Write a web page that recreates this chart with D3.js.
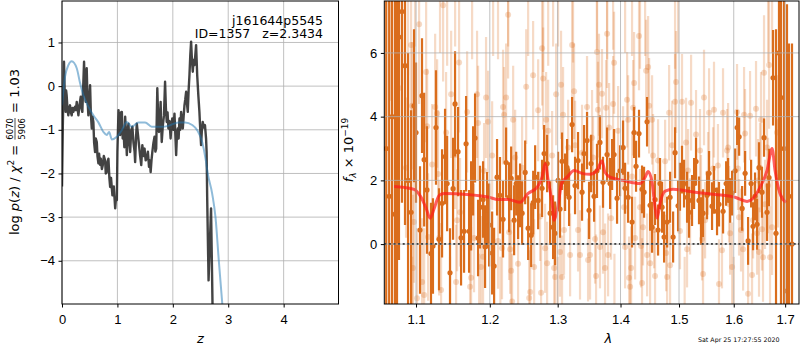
<!DOCTYPE html>
<html>
<head>
<meta charset="utf-8">
<script src="https://d3js.org/d3.v7.min.js"></script>
<style>
body { margin: 0; background: #fff; }
svg { font-family: "DejaVu Sans", sans-serif; }
.tick text { font-size: 13px; fill: #000; }
</style>
</head>
<body>
<svg id="chart" width="800" height="350"></svg>
<script>
// ---- left panel: log p(z) ----
var pzRedshift = [0, 0.015, 0.036, 0.05, 0.066, 0.075, 0.084, 0.1, 0.114, 0.13,
  0.145, 0.16, 0.175, 0.19, 0.205, 0.22, 0.235, 0.25, 0.266, 0.28,
  0.296, 0.315, 0.338, 0.352, 0.367, 0.38, 0.398, 0.41, 0.428, 0.446,
  0.46, 0.476, 0.49, 0.507, 0.52, 0.537, 0.55, 0.566, 0.58, 0.597,
  0.61, 0.628, 0.64, 0.657, 0.67, 0.685, 0.70, 0.72, 0.736, 0.755,
  0.778, 0.79, 0.808, 0.82, 0.838, 0.855, 0.869, 0.885, 0.91, 0.935,
  0.96, 0.975, 0.99, 1.0, 1.02, 1.035, 1.05, 1.065, 1.08, 1.095,
  1.11, 1.125, 1.14, 1.155, 1.17, 1.185, 1.20, 1.215, 1.23, 1.25,
  1.27, 1.29, 1.31, 1.32, 1.335, 1.35, 1.37, 1.39, 1.41, 1.43,
  1.45, 1.47, 1.49, 1.51, 1.53, 1.55, 1.57, 1.585, 1.60, 1.615,
  1.63, 1.65, 1.67, 1.685, 1.70, 1.72, 1.735, 1.75, 1.765, 1.78,
  1.79, 1.80, 1.82, 1.84, 1.86, 1.875, 1.89, 1.905, 1.92, 1.94,
  1.96, 1.975, 1.99, 2.01, 2.03, 2.045, 2.06, 2.075, 2.09, 2.105,
  2.12, 2.135, 2.15, 2.165, 2.18, 2.195, 2.21, 2.225, 2.24, 2.255,
  2.27, 2.285, 2.30, 2.315, 2.33, 2.345, 2.36, 2.375, 2.39, 2.405,
  2.42, 2.43, 2.44, 2.46, 2.48, 2.495, 2.51, 2.525, 2.54, 2.56,
  2.58, 2.60, 2.61, 2.62, 2.645, 2.69, 2.72];
var pzLog = [-2.3, -0.9, 0.56, -0.2, -0.59, -0.1, -0.21, -0.55, -0.67, -0.5,
  -0.44, -0.6, -0.67, -0.5, -0.59, -0.52, -0.47, -0.55, -0.36, -0.5,
  -0.67, -0.45, -0.24, -0.5, -0.59, -0.1, 0.56, 0.0, -0.36, 0.41,
  -0.3, -0.67, -0.3, 0.02, -0.6, -0.97, -0.7, -0.82, -1.3, -1.51,
  -1.2, -1.28, -1.6, -1.77, -1.55, -1.8, -1.66, -1.9, -1.81, -1.6,
  -1.70, -2.0, -1.97, -1.75, -1.66, -2.1, -2.31, -2.1, -2.5, -2.3,
  -2.80, -2.55, -2.61, -1.5, -0.55, -0.9, -1.12, -0.6, -0.59, -1.2,
  -1.0, -1.4, -0.7, -1.1, -1.58, -1.0, -0.86, -1.3, -1.51, -1.0,
  -0.93, -1.3, -1.5, -1.74, -1.2, -0.86, -1.1, -1.35, -1.6, -1.81,
  -1.35, -1.6, -1.43, -1.7, -1.66, -1.5, -1.85, -1.7, -1.97, -1.7,
  -1.51, -1.3, -1.16, -1.5, -1.43, -0.05, -0.7, -1.05, -0.8, -0.36,
  -0.9, -1.28, -0.9, -0.67, 0.1, -0.5, -0.82, -0.6, -0.97, -0.8,
  -1.2, -0.9, -0.74, -1.0, -0.63, -1.1, -1.58, -1.1, -0.97, -1.2,
  -0.74, -1.0, -0.59, -0.8, -0.97, -0.7, -0.44, -0.3, -0.13, -0.4,
  -0.59, -0.1, 0.25, 0.7, 1.02, 0.6, 0.33, 0.6, 0.48, 0.7,
  0.94, 0.6, 0.25, -0.2, -0.59, -1.0, -1.35, -1.0, -0.82, -0.95,
  -0.89, -1.2, -1.51, -2.54, -4.45, -2.8, -5.3];

var priorRedshift = [0, 0.054, 0.115, 0.175, 0.266, 0.326, 0.386, 0.476, 0.566, 0.657,
  0.747, 0.808, 0.85, 0.9, 0.99, 1.08, 1.17, 1.26, 1.38, 1.50,
  1.62, 1.80, 1.92, 2.10, 2.22, 2.35, 2.44, 2.53, 2.59, 2.63,
  2.71, 2.77, 2.83, 2.90];
var priorLog = [-0.44, 0.21, 0.48, 0.57, 0.41, 0.07, -0.21, -0.47, -0.67, -0.83,
  -1.05, -1.12, -1.05, -1.22, -1.16, -1.01, -0.82, -0.93, -0.83, -0.83,
  -0.93, -0.93, -0.91, -0.83, -0.83, -0.89, -1.01, -1.28, -1.66, -2.0,
  -2.46, -3.0, -4.0, -5.1];

var zTicks = [0, 1, 2, 3, 4];
var logTicks = [-4, -3, -2, -1, 0, 1];

// ---- right panel: spectrum (flux in 1e-19) ----
var darkWave = [1.062, 1.0657, 1.0694, 1.0731, 1.0756, 1.0781, 1.0819, 1.0858, 1.0897, 1.0936,
  1.0974, 1.1000, 1.1052, 1.1078, 1.1106, 1.1143, 1.1196, 1.1222, 1.1262, 1.1302,
  1.1343, 1.1383, 1.1450, 1.1491, 1.1518, 1.1559, 1.1600, 1.1641, 1.1669, 1.1710,
  1.1766, 1.1793, 1.1835, 1.1862, 1.1905, 1.1933, 1.1962, 1.2033, 1.2061, 1.2145,
  1.2189, 1.2233, 1.2276, 1.2306, 1.2349, 1.2407, 1.2436, 1.2466, 1.2511, 1.2555,
  1.2600, 1.2659, 1.2704, 1.2763, 1.2794, 1.2839, 1.2885, 1.2930, 1.2960, 1.3006,
  1.3114, 1.3176, 1.3223, 1.3269, 1.3316, 1.3379, 1.3411, 1.3458, 1.3490, 1.3522,
  1.3570, 1.3665, 1.3714, 1.3780, 1.3894, 1.3943, 1.4042, 1.4076, 1.4126, 1.4192,
  1.4226, 1.4259, 1.4309, 1.4360, 1.4394, 1.4445, 1.4497, 1.4531, 1.4582, 1.4634,
  1.4703, 1.4738, 1.4791, 1.4843, 1.4896, 1.4930, 1.5053, 1.5089, 1.5143, 1.5178,
  1.5232, 1.5304, 1.5358, 1.5394, 1.5431, 1.5504, 1.5541, 1.5596, 1.5688, 1.5724,
  1.5800, 1.5857, 1.5894, 1.5932, 1.6064, 1.6102, 1.6159, 1.6216, 1.6273, 1.6331,
  1.6369, 1.6446, 1.6542, 1.6582, 1.6641, 1.6680, 1.6759, 1.6818, 1.6877, 1.6917,
  1.6977, 1.7037, 1.7077, 1.7138,
  1.1411, 1.1738, 1.1990, 1.2103, 1.2379, 1.2630, 1.3036, 1.3067, 1.3145, 1.3617,
  1.3829, 1.3862, 1.3992, 1.4668, 1.4983, 1.5017, 1.5269, 1.5632, 1.5969, 1.6026,
  1.6407, 1.6484];
var darkFlux = [3.0, 1.5, 4.0, 0.94, 2.47, 6.5, 7.3, 5.6, 2.0, 1.0,
  4.34, 3.5, 0.44, 4.66, 2.65, 1.7, -0.3, -0.06, 3.66, 0.15,
  1.28, 2.75, -0.9, 1.74, 4.4, 2.9, 0.2, 0.4, 3.15, 0.4,
  2.3, 3.33, 0.19, 1.16, 1.4, -0.08, 1.06, -0.28, -0.69, 1.53,
  0.78, 2.56, 1.47, 2.06, 0.75, 1.16, 1.53, 0.97, 2.25, 0.5,
  0.28, 2.1, 1.37, 1.75, 2.84, 2.53, 0.97, 0.53, 0.34, 2.0,
  1.94, 1.47, 3.75, 1.84, 2.62, 1.63, 2.84, 3.25, 1.06, 2.53,
  1.5, 3.19, 1.94, 2.81, 2.81, 1.44, 3.03, 1.75, 1.47, 0.69,
  3.5, 2.44, 3.47, 1.72, 1.63, 3.84, 1.22, 0.53, 1.4, 0.44,
  1.16, 0.22, 0.69, 1.47, 0.22, 2.87, 2.34, 1.9, 1.47, 1.0,
  1.37, 2.59, 1.37, 0.72, 0.97, 1.53, 2.22, 1.19, 1.03, 1.25,
  1.03, 1.9, 2.0, 1.37, 3.66, 3.37, 1.12, 2.22, 0.1, 1.9,
  0.56, 0.62, 1.63, 3.34, 1.0, 2.09, 5.22, 0.34, 6.0, 4.6,
  3.0, -1.47, 1.5, 0.0,
  1.9, 1.2, 0.6, 2.1, 1.9, 1.3, 1.1, 2.6, 2.4, 2.3,
  1.9, 2.5, 2.3, 1.9, 1.2, 1.8, 1.9, 1.7, 1.6, 2.3,
  1.5, 2.4];
var darkErr = [9, 8, 8, 7, 6, 7, 6, 5, 4, 3.2,
  2.4, 2.2, 2.0, 1.8, 2.1, 2.0, 1.6, 1.5, 1.8, 1.6,
  1.7, 1.5, 1.4, 1.6, 1.65, 1.4, 1.5, 1.3, 1.5, 1.3,
  1.4, 1.4, 1.2, 1.3, 1.2, 1.3, 1.2, 1.3, 1.2, 1.2,
  1.2, 1.1, 1.1, 1.0, 1.1, 1.0, 1.0, 1.0, 1.0, 1.0,
  1.0, 1.0, 0.9, 0.9, 0.9, 0.9, 1.0, 1.0, 1.0, 0.9,
  0.9, 0.9, 0.87, 0.9, 0.9, 0.9, 0.9, 0.9, 0.9, 0.9,
  0.8, 0.85, 0.8, 0.85, 0.8, 0.8, 0.85, 0.8, 0.8, 0.8,
  0.8, 0.8, 0.75, 0.75, 0.8, 0.78, 0.8, 0.8, 0.8, 0.8,
  0.8, 0.8, 0.8, 0.8, 0.8, 0.8, 0.75, 0.75, 0.8, 0.8,
  0.8, 0.75, 0.75, 0.75, 0.75, 0.75, 0.7, 0.75, 0.75, 0.7,
  0.7, 0.7, 0.7, 0.7, 0.55, 0.6, 0.7, 0.7, 0.75, 0.75,
  0.75, 0.8, 0.8, 0.6, 0.9, 0.9, 1.5, 6.4, 4, 9,
  9, 9, 4.8, 6.3,
  1.5, 1.4, 1.3, 1.2, 1.0, 1.0, 0.9, 0.9, 0.9, 0.85,
  0.8, 0.8, 0.8, 0.8, 0.8, 0.75, 0.8, 0.75, 0.7, 0.7,
  0.75, 0.8];

// second (fainter) spectrum; the last rows are points whose centres fall off the plot
var lightWave = [1.078, 1.0871, 1.0936, 1.0949, 1.0961, 1.0974, 1.1013, 1.1040, 1.1079, 1.1106,
  1.1132, 1.1145, 1.1158, 1.1211, 1.1251, 1.1277, 1.1290, 1.1304, 1.1330, 1.1357,
  1.1397, 1.1465, 1.1519, 1.1532, 1.1546, 1.1573, 1.1586, 1.1683, 1.1724, 1.1738,
  1.1779, 1.1821, 1.1835, 1.1876, 1.1905, 1.1919, 1.1947, 1.1976, 1.2033, 1.2117,
  1.2174, 1.2189, 1.2203, 1.2233, 1.2262, 1.2276, 1.2291, 1.2306, 1.2320, 1.2335,
  1.2364, 1.2407, 1.2466, 1.2526, 1.2570, 1.2585, 1.2629, 1.2644, 1.2704, 1.2733,
  1.2748, 1.2763, 1.2779, 1.2809, 1.2824, 1.2839, 1.2855, 1.2915, 1.2946, 1.2961,
  1.2976, 1.3036, 1.3052, 1.3067, 1.3083, 1.3098, 1.3161, 1.3192, 1.3223, 1.3254,
  1.3270, 1.3316, 1.3347, 1.3379, 1.3458, 1.3474, 1.3506, 1.3538, 1.3554, 1.3586,
  1.3602, 1.3617, 1.3633, 1.3649, 1.3665, 1.3698, 1.3714, 1.3747, 1.3763, 1.3780,
  1.3796, 1.3813, 1.3845, 1.3878, 1.3894, 1.3960, 1.4042, 1.4059, 1.4076, 1.4109,
  1.4126, 1.4142, 1.4159, 1.4176, 1.4192, 1.4209, 1.4226, 1.4243, 1.4309, 1.4326,
  1.4343, 1.4360, 1.4377, 1.4429, 1.4446, 1.4463, 1.4480, 1.4497, 1.4531, 1.4548,
  1.4565, 1.4582, 1.4634, 1.4756, 1.4773, 1.4791, 1.4826, 1.4843, 1.4878, 1.4930,
  1.4948, 1.5017, 1.5053, 1.5125, 1.5143, 1.5161, 1.5197, 1.5215, 1.5304, 1.5376,
  1.5394, 1.5413, 1.5431, 1.5449, 1.5468, 1.5522, 1.5541, 1.5614, 1.5632, 1.5705,
  1.5724, 1.5780, 1.5799, 1.5875, 1.5894, 1.5912, 1.5931, 1.5969, 1.6062, 1.6081,
  1.6100, 1.6138, 1.6177, 1.6196, 1.6215, 1.6273, 1.6311, 1.6349, 1.6369, 1.6426,
  1.6446, 1.6465, 1.6484, 1.6503, 1.6523, 1.6542, 1.6562, 1.6582, 1.6602, 1.6641,
  1.6661, 1.6681, 1.6700, 1.6740, 1.6838, 1.6858,
  1.0670, 1.0820, 1.0897, 1.0987, 1.1316, 1.1411, 1.1519, 1.1752, 1.2047, 1.2117,
  1.2262, 1.2555, 1.2779, 1.2855, 1.2930, 1.3006, 1.3238, 1.3617, 1.3780, 1.3878,
  1.4076, 1.4192, 1.4326, 1.4412, 1.4930, 1.4983, 1.6661, 1.6740,
  1.0950, 1.1450, 1.1850, 1.2150, 1.3000, 1.3900, 1.5100, 1.6000];
var lightFlux = [4.9, 2.4, 6.25, 4.34, -0.75, 0.69, -1.7, 6.9, -1.19, -1.6,
  5.4, 3.7, 0.22, 2.5, 4.3, 4.1, 2.2, 0.19, -1.44, 7.5,
  3.5, 4.7, 2.8, -1.19, 0.75, 5.7, 1.0, 4.15, -1.34, -1.06,
  0.19, 4.7, 3.8, -0.72, -0.4, 2.3, 4.6, 3.84, 2.78, 0.1,
  -0.13, 4.3, 4.06, 4.6, 7.2, 0.37, -0.16, -0.84, -1.8, 3.9,
  2.72, -0.62, 2.4, 4.94, -1.69, -1.5, 5.3, -0.72, 4.2, 0.87,
  -1.53, 6.15, 5.2, -0.13, 3.9, -0.6, 3.56, 2.78, -0.75, -1.03,
  4.7, -0.25, 5.0, -1.03, 4.06, 0.44, 3.03, -0.34, 6.25, 4.8,
  3.1, 0.44, -0.34, 2.87, 4.3, -0.5, -0.34, 3.34, 2.72, 0.16,
  -1.0, 6.03, 4.22, 5.0, -0.09, 4.72, 0.37, -0.75, 4.28, 6.6,
  -0.34, 3.66, 0.81, 4.4, 5.69, 3.56, 3.03, 1.16, -0.09, 4.53,
  3.9, -1.06, -1.34, -0.75, 2.12, 4.28, 5.06, 0.19, 6.53, 1.16,
  -0.06, -1.22, 0.53, 5.44, -0.34, 5.56, 4.34, -0.6, 3.9, 2.78,
  0.44, -1.0, 2.62, 2.6, -0.28, -1.03, 4.12, -0.66, 3.1, 4.47,
  5.09, 0.41, 4.47, 3.19, -0.16, 2.31, 0.87, 4.44, 3.44, 2.94,
  1.6, 0.16, -0.94, 4.6, 0.75, 2.22, 4.12, 2.37, 4.22, 2.47,
  -1.25, -0.19, 4.12, 2.94, 3.03, 1.25, 0.34, -0.72, 4.15, 2.37,
  0.84, 0.44, -0.16, 4.06, 3.47, -1.56, 4.03, -0.97, 0.75, 4.25,
  0.34, 2.0, -0.25, 2.4, 3.9, 0.47, -0.41, 5.38, 1.25, 3.03,
  1.84, 5.62, -0.41, 0.53, 3.5, 2.22,
  9.5, 9.0, 8.8, 9.2, 8.6, 9.0, 8.4, 8.8, 8.5, 9.0,
  8.2, 8.6, 8.4, 8.8, 8.3, 8.6, 8.5, 8.4, 8.7, 8.3,
  8.6, 8.4, 8.8, 8.3, 8.4, 8.6, 8.9, 8.5,
  -2.5, -2.3, -2.6, -2.4, -2.2, -2.5, -2.3, -2.4];
var lightErr = [2.4, 2.2, 2.6, 2.0, 2.3, 1.9, 2.2, 2.5, 2.0, 2.1,
  2.2, 1.8, 2.0, 1.9, 2.3, 1.7, 2.0, 1.8, 2.1, 2.4,
  1.9, 2.0, 1.7, 1.8, 1.6, 2.2, 1.7, 1.9, 1.8, 1.6,
  1.7, 2.0, 1.8, 1.6, 1.7, 1.5, 1.9, 1.6, 1.7, 1.5,
  1.6, 1.8, 1.5, 1.7, 2.0, 1.5, 1.4, 1.6, 1.5, 1.7,
  1.5, 1.4, 1.6, 1.8, 1.5, 1.4, 1.7, 1.5, 1.6, 1.4,
  1.5, 1.8, 1.6, 1.4, 1.5, 1.3, 1.6, 1.4, 1.5, 1.3,
  1.6, 1.4, 1.7, 1.3, 1.5, 1.4, 1.5, 1.3, 1.7, 1.5,
  1.4, 1.3, 1.4, 1.5, 1.6, 1.3, 1.4, 1.5, 1.3, 1.4,
  1.3, 1.6, 1.5, 1.6, 1.3, 1.4, 1.3, 1.4, 1.5, 1.7,
  1.3, 1.4, 1.3, 1.5, 1.6, 1.4, 1.3, 1.2, 1.3, 1.5,
  1.4, 1.3, 1.2, 1.3, 1.4, 1.5, 1.6, 1.3, 1.7, 1.2,
  1.3, 1.4, 1.2, 1.6, 1.3, 1.6, 1.5, 1.3, 1.4, 1.3,
  1.2, 1.4, 1.3, 1.3, 1.2, 1.4, 1.5, 1.3, 1.4, 1.5,
  1.6, 1.2, 1.5, 1.4, 1.2, 1.3, 1.2, 1.5, 1.4, 1.3,
  1.2, 1.3, 1.4, 1.5, 1.2, 1.3, 1.4, 1.3, 1.5, 1.3,
  1.4, 1.2, 1.4, 1.3, 1.4, 1.2, 1.3, 1.4, 1.5, 1.3,
  1.2, 1.3, 1.3, 1.5, 1.4, 1.5, 1.4, 1.3, 1.2, 1.5,
  1.3, 1.3, 1.4, 1.4, 1.5, 1.3, 1.4, 1.8, 1.4, 1.5,
  1.5, 2.0, 1.6, 1.5, 1.8, 1.7,
  5.0, 4.0, 3.5, 3.0, 2.6, 3.4, 2.2, 3.0, 2.6, 3.2,
  2.0, 2.7, 3.0, 3.2, 2.1, 2.4, 2.8, 2.3, 2.9, 2.2,
  2.6, 2.5, 3.3, 2.4, 2.9, 2.6, 3.2, 2.5,
  2.1, 1.9, 2.3, 2.0, 1.8, 2.2, 1.9, 2.0];

var modelWave = [1.0720, 1.0846, 1.0974, 1.1066, 1.1132, 1.1185, 1.1238, 1.1304, 1.1370, 1.1683,
  1.1990, 1.2117, 1.2262, 1.2436, 1.2555, 1.2688, 1.2763, 1.2809, 1.2855, 1.2915,
  1.2946, 1.2991, 1.3067, 1.3145, 1.3254, 1.3379, 1.3506, 1.3617, 1.3698, 1.3747,
  1.3829, 1.4042, 1.4326, 1.4412, 1.4463, 1.4531, 1.4582, 1.4617, 1.4668, 1.4756,
  1.4896, 1.5286, 1.5651, 1.6024, 1.6254, 1.6369, 1.6503, 1.6641, 1.6740, 1.6799,
  1.6897, 1.7017];
var modelFlux = [1.81, 1.78, 1.72, 1.47, 1.12, 0.81, 1.12, 1.53, 1.59, 1.56,
  1.47, 1.4, 1.4, 1.31, 1.59, 1.78, 2.1, 2.53, 2.0, 1.28,
  0.75, 1.06, 1.94, 2.1, 2.31, 2.22, 2.19, 2.31, 2.62, 2.25,
  2.1, 2.0, 1.9, 2.1, 2.28, 1.94, 1.16, 0.81, 1.28, 1.66,
  1.72, 1.63, 1.56, 1.47, 1.34, 1.44, 1.78, 2.31, 3.0, 2.31,
  1.59, 1.31];

var waveTicks = [1.1, 1.2, 1.3, 1.4, 1.5, 1.6, 1.7];
var fluxTicks = [0, 2, 4, 6];

var ORANGE = "#da6d1c";
var GRID = "#b0b0b0";

var svg = d3.select("#chart");
var defs = svg.append("defs");

// ===== left panel =====
var L = {x0: 62, x1: 338.5, y0: 1, y1: 304};
var xz = d3.scaleLinear().domain([0, 4.99]).range([L.x0, L.x1]);
var yp = d3.scaleLinear().domain([-4.99, 1.95]).range([L.y1, L.y0]);

defs.append("clipPath").attr("id", "clipL").append("rect")
  .attr("x", L.x0).attr("y", L.y0).attr("width", L.x1 - L.x0).attr("height", L.y1 - L.y0);

var left = svg.append("g");
left.append("g").selectAll("line").data(zTicks).enter().append("line")
  .attr("x1", function (d) {return xz(d);}).attr("x2", function (d) {return xz(d);})
  .attr("y1", L.y0).attr("y2", L.y1)
  .attr("stroke", GRID).attr("stroke-width", 0.8);
left.append("g").selectAll("line").data(logTicks).enter().append("line")
  .attr("y1", function (d) {return yp(d);}).attr("y2", function (d) {return yp(d);})
  .attr("x1", L.x0).attr("x2", L.x1)
  .attr("stroke", GRID).attr("stroke-width", 0.8);

var plotL = left.append("g").attr("clip-path", "url(#clipL)");
var pzLine = d3.line()
  .x(function (d, i) {return xz(pzRedshift[i]);})
  .y(function (d) {return yp(d);});
plotL.append("path").datum(pzLog).attr("d", pzLine)
  .attr("fill", "none").attr("stroke", "#222").attr("stroke-opacity", 0.85)
  .attr("stroke-width", 2.4).attr("stroke-linejoin", "round");

var priorLine = d3.line()
  .x(function (d, i) {return xz(priorRedshift[i]);})
  .y(function (d) {return yp(d);})
  .curve(d3.curveMonotoneX);
plotL.append("path").datum(priorLog).attr("d", priorLine)
  .attr("fill", "none").attr("stroke", "#1f77b4").attr("stroke-opacity", 0.5)
  .attr("stroke-width", 2);

left.append("g").attr("transform", "translate(0," + L.y1 + ")")
  .call(d3.axisBottom(xz).tickValues(zTicks).tickSize(3.5).tickPadding(7).tickFormat(d3.format("d")))
  .call(function (g) {g.select(".domain").remove();});
left.append("g").attr("transform", "translate(" + L.x0 + ",0)")
  .call(d3.axisLeft(yp).tickValues(logTicks).tickSize(3.5).tickPadding(3.5).tickFormat(d3.format("d")))
  .call(function (g) {g.select(".domain").remove();});
left.append("rect").attr("x", L.x0).attr("y", L.y0)
  .attr("width", L.x1 - L.x0).attr("height", L.y1 - L.y0)
  .attr("fill", "none").attr("stroke", "#000").attr("stroke-width", 1);

left.append("text").attr("x", 323).attr("y", 24.5).attr("text-anchor", "end")
  .attr("font-size", 12.5).text("j161644p5545");
left.append("text").attr("x", 323).attr("y", 38).attr("text-anchor", "end")
  .attr("font-size", 12.5).style("white-space", "pre").text("ID=1357   z=2.3434");

left.append("text").attr("x", xz(2.5)).attr("y", 343).attr("text-anchor", "middle")
  .attr("font-size", 13).attr("font-style", "italic").text("z");

// y label with stacked fraction
var yl = left.append("g");
var t1 = yl.append("text").attr("font-size", 13);
t1.append("tspan").text("log ");
t1.append("tspan").attr("font-style", "italic").text("p");
t1.append("tspan").text("(");
t1.append("tspan").attr("font-style", "italic").text("z");
t1.append("tspan").text(") / ");
t1.append("tspan").attr("font-style", "italic").text("χ");
t1.append("tspan").attr("font-size", 9).attr("dy", -5).text("2");
t1.append("tspan").attr("dy", 5).text("\u00a0=\u00a0");
var w1 = t1.node().getComputedTextLength();
var num = yl.append("text").attr("font-size", 8.5).attr("x", w1 + 1).attr("y", -6).text("6070");
var den = yl.append("text").attr("font-size", 8.5).attr("x", w1 + 1).attr("y", 5.5).text("5906");
var fw = Math.max(num.node().getComputedTextLength(), den.node().getComputedTextLength());
yl.append("line").attr("x1", w1 + 1).attr("x2", w1 + 1 + fw).attr("y1", -4).attr("y2", -4)
  .attr("stroke", "#000").attr("stroke-width", 0.7);
var t2 = yl.append("text").attr("font-size", 13).attr("x", w1 + fw + 2).text("\u00a0=\u00a01.03");
var wTot = w1 + fw + 2 + t2.node().getComputedTextLength();
yl.attr("transform", "translate(19,152) rotate(-90) translate(" + (-wTot / 2) + ",0)");

// ===== right panel =====
var R = {x0: 384.3, x1: 799, y0: 1, y1: 304};
var xw = d3.scaleLog().domain([1.0596, 1.728]).range([R.x0, R.x1]);
var yf = d3.scaleLinear().domain([-1.88, 7.63]).range([R.y1, R.y0]);

defs.append("clipPath").attr("id", "clipR").append("rect")
  .attr("x", R.x0).attr("y", R.y0).attr("width", R.x1 - R.x0).attr("height", R.y1 - R.y0);

var right = svg.append("g");
var plotR = right.append("g").attr("clip-path", "url(#clipR)");

// light series
plotR.append("g").selectAll("line").data(lightFlux).enter().append("line")
  .attr("x1", function (d, i) {return xw(lightWave[i]);})
  .attr("x2", function (d, i) {return xw(lightWave[i]);})
  .attr("y1", function (d, i) {return yf(d - lightErr[i]);})
  .attr("y2", function (d, i) {return yf(d + lightErr[i]);})
  .attr("stroke", ORANGE).attr("stroke-opacity", 0.25).attr("stroke-width", 2.2);
plotR.append("g").selectAll("circle").data(lightFlux).enter().append("circle")
  .attr("cx", function (d, i) {return xw(lightWave[i]);})
  .attr("cy", function (d) {return yf(d);})
  .attr("r", 3).attr("fill", ORANGE).attr("fill-opacity", 0.25);

// dark series
plotR.append("g").selectAll("line").data(darkFlux).enter().append("line")
  .attr("x1", function (d, i) {return xw(darkWave[i]);})
  .attr("x2", function (d, i) {return xw(darkWave[i]);})
  .attr("y1", function (d, i) {return yf(d - darkErr[i]);})
  .attr("y2", function (d, i) {return yf(d + darkErr[i]);})
  .attr("stroke", ORANGE).attr("stroke-width", 2.2);
plotR.append("g").selectAll("circle").data(darkFlux).enter().append("circle")
  .attr("cx", function (d, i) {return xw(darkWave[i]);})
  .attr("cy", function (d) {return yf(d);})
  .attr("r", 2.6).attr("fill", ORANGE);

// model
var modelLine = d3.line()
  .x(function (d, i) {return xw(modelWave[i]);})
  .y(function (d) {return yf(d);})
  .curve(d3.curveMonotoneX);
plotR.append("path").datum(modelFlux).attr("d", modelLine)
  .attr("fill", "none").attr("stroke", "#ff1a1a").attr("stroke-opacity", 0.7)
  .attr("stroke-width", 3);

// zero line
plotR.append("line").attr("x1", R.x0).attr("x2", R.x1)
  .attr("y1", yf(0)).attr("y2", yf(0))
  .attr("stroke", "#111").attr("stroke-width", 2)
  .attr("stroke-dasharray", "2,2.6");

// grid on top
right.append("g").selectAll("line").data(waveTicks).enter().append("line")
  .attr("x1", function (d) {return xw(d);}).attr("x2", function (d) {return xw(d);})
  .attr("y1", R.y0).attr("y2", R.y1)
  .attr("stroke", GRID).attr("stroke-width", 0.8);
right.append("g").selectAll("line").data(fluxTicks).enter().append("line")
  .attr("y1", function (d) {return yf(d);}).attr("y2", function (d) {return yf(d);})
  .attr("x1", R.x0).attr("x2", R.x1)
  .attr("stroke", GRID).attr("stroke-width", 0.8);

right.append("g").attr("transform", "translate(0," + R.y1 + ")")
  .call(d3.axisBottom(xw).tickValues(waveTicks).tickSize(3.5).tickPadding(7).tickFormat(d3.format(".1f")))
  .call(function (g) {g.select(".domain").remove();});
right.append("g").attr("transform", "translate(" + R.x0 + ",0)")
  .call(d3.axisLeft(yf).tickValues(fluxTicks).tickSize(3.5).tickPadding(3.5).tickFormat(d3.format("d")))
  .call(function (g) {g.select(".domain").remove();});
right.append("rect").attr("x", R.x0).attr("y", R.y0)
  .attr("width", R.x1 - R.x0).attr("height", R.y1 - R.y0)
  .attr("fill", "none").attr("stroke", "#000").attr("stroke-width", 1);

right.append("text").attr("x", xw(1.38)).attr("y", 343).attr("text-anchor", "middle")
  .attr("font-size", 13).attr("font-style", "italic").text("λ");

var fl = right.append("text").attr("font-size", 13).attr("text-anchor", "middle")
  .attr("transform", "translate(353,150) rotate(-90)");
fl.append("tspan").attr("font-style", "italic").text("f");
fl.append("tspan").attr("font-size", 9).attr("font-style", "italic").attr("dy", 3).text("λ");
fl.append("tspan").attr("dy", -3).text("\u00a0×\u00a010");
fl.append("tspan").attr("font-size", 9).attr("dy", -5).text("−19");

svg.append("text").attr("x", 698).attr("y", 342).attr("font-size", 6.3)
  .text("Sat Apr 25 17:27:55 2020");
</script>
</body>
</html>
